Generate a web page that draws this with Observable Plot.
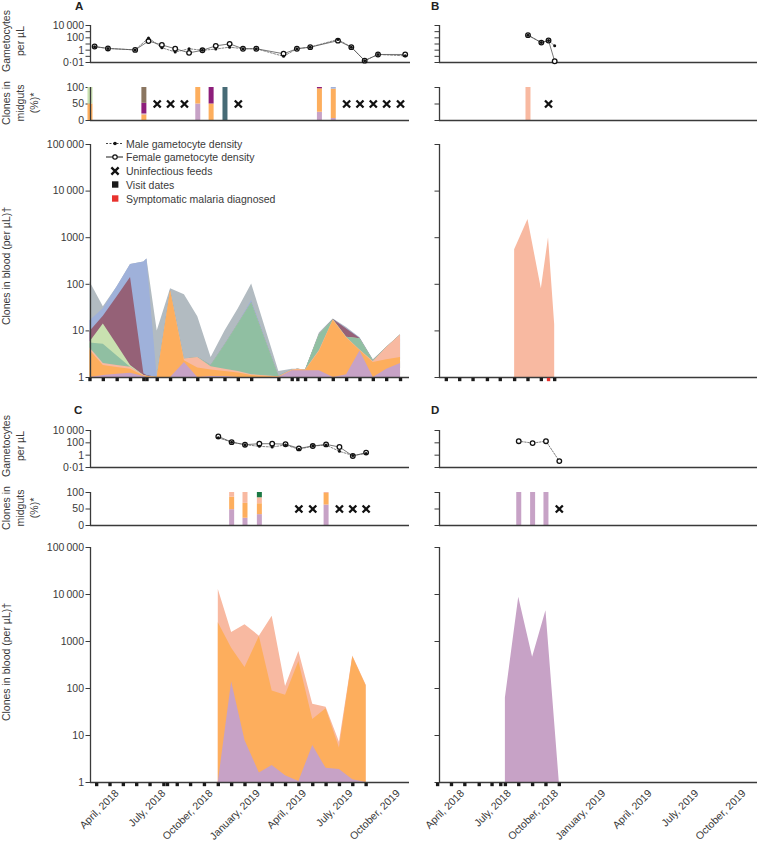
<!DOCTYPE html>
<html><head><meta charset="utf-8">
<script src="https://cdn.jsdelivr.net/npm/d3@7"></script>
<script src="https://cdn.jsdelivr.net/npm/@observablehq/plot@0.6"></script>
<style>
body{margin:0;background:#fff;}
#root{position:relative;width:761px;height:842px;overflow:hidden;font-family:"Liberation Sans",Arial,sans-serif;}
.chart{position:absolute;}
.chart svg{overflow:visible;}
</style></head><body><div id="root"></div>
<script>
// ---------- tick values & labels ----------
const monthTicks = ["2018-04-01","2018-07-01","2018-10-01","2019-01-01","2019-04-01","2019-07-01","2019-10-01"];
const monthLabels = ["April, 2018","July, 2018","October, 2018","January, 2019","April, 2019","July, 2019","October, 2019"];
const bloodTicks = [1,10,100,1000,10000,100000];
const bloodTickLabels = ["1","10","100","1000","10\u2009000","100\u2009000"];
const gamTicksAll = [0.01,0.1,1,10,100,1000,10000];
const gamTickLabelsAll = ["0·01","","1","","100","","10\u2009000"];
const gamTicksEven = [0.01,1,100,10000];
const gamTickLabelsEven = ["0·01","1","100","10\u2009000"];
const gutTicks = [0,50,100];
const gutTickLabels = ["0","50","100"];

// ---------- Panel A ----------
const aVisits = ["2018-02-19","2018-03-17","2018-04-13","2018-05-09","2018-06-04","2018-06-10","2018-06-30","2018-07-26","2018-08-22","2018-09-17","2018-10-13","2018-11-09","2018-12-05","2018-12-31","2019-02-22","2019-03-20","2019-03-31","2019-04-15","2019-05-12","2019-06-08","2019-07-04","2019-07-30","2019-08-25","2019-09-20","2019-10-17"];
// cumulative (stacked) clone densities per µL at each visit, bottom clone first
const aPurple = [1.0,1.1,1.17,1.24,1.05,1.0,1,1.0,2.1,1.0,1.05,1.05,1.0,1.0,1.0,1.4,1.4,1.4,1.4,1.0,1.15,3.7,1.0,1.5,2.0];
const aOrange = [3.8,1.8,1.64,1.5,1.08,1.05,1,72,2.3,1.6,1.45,1.35,1.25,1.1,1.02,1.42,1.45,1.42,3.6,17,7.0,3.8,2.1,2.4,2.7];
const aPink   = [4.3,2.0,1.8,1.65,1.1,1.07,1,74,2.5,2.7,1.7,1.5,1.35,1.15,1.04,1.45,1.5,1.45,3.8,17.2,7.2,3.9,2.2,4.4,8.2];
const aTeal   = [5.5,5.2,2.9,1.65,1.1,1.07,1,74,2.5,2.7,1.8,5.0,14,40,1.06,1.45,1.5,1.45,8.3,17.4,7.3,6.8,2.3,4.4,8.2];
const aLGreen = [5.8,14,5.0,1.8,1.1,1.07,1,74,2.5,2.7,1.8,5.0,14,40,1.06,1.45,1.5,1.45,8.3,17.4,7.3,6.8,2.3,4.4,8.2];
const aMaroon = [9.7,20.5,54,140,1.2,1.1,1,74,2.5,2.7,1.8,5.0,14,40,1.06,1.45,1.5,1.45,8.3,17.6,11,6.9,2.3,4.4,8.2];
const aBlue   = [16.5,30,89,265,300,350,1,77,2.5,2.7,1.85,5.2,14.5,45,1.1,1.45,1.5,1.45,8.5,17.8,11.3,7.0,2.35,4.4,8.2];
const aGrey   = [112,33,89,265,300,350,10,80,60,20,2.7,10,30,102,1.35,1.5,1.5,1.45,9,18,11.8,7.1,2.4,4.4,8.2];
const aGamDates = ["2018-02-19","2018-03-17","2018-05-09","2018-06-04","2018-06-30","2018-07-26","2018-08-22","2018-09-17","2018-10-13","2018-11-09","2018-12-05","2018-12-31","2019-02-22","2019-03-20","2019-04-15","2019-06-08","2019-07-04","2019-07-30","2019-08-25","2019-10-17"];
const aFemale = [3.9,1.9,1.1,30,7,1.7,0.37,0.95,5,10.5,1.7,1.7,0.26,1.7,3.1,35,3.1,0.02,0.2,0.2];
const aMale   = [3.6,1.9,1.1,95,2.5,0.5,1.7,0.95,1.5,3.1,1.7,1.7,0.1,1.7,3.1,55,3.1,0.02,0.2,0.12];
const aGutDates  = ["2018-02-19","2018-02-19","2018-06-04","2018-06-04","2018-06-04","2018-06-04","2018-09-17","2018-09-17","2018-10-13","2018-10-13","2018-11-09","2019-05-12","2019-05-12","2019-05-12","2019-06-08","2019-06-08","2019-06-08"];
const aGutClones = ["orange","lgreen","orange","purple","magenta","brown","purple","orange","orange","magenta","darkteal","purple","orange","magenta","purple","orange","blue"];
const aGutPct    = [50,50,17,3,32,48,50,50,50,50,100,25,71,4,6,89,5];
const aFeeds = ["2018-06-30","2018-07-26","2018-08-22","2018-12-05","2019-07-04","2019-07-30","2019-08-25","2019-09-20","2019-10-17"];

// ---------- Panel B ----------
const bVisits = ["2018-03-12","2018-04-07","2018-05-03","2018-05-31","2018-06-25","2018-07-23","2018-08-18","2018-09-13","2018-09-27","2018-10-09"];
const bSymptomatic = ["2018-09-27"];
const bBloodDates = ["2018-07-23","2018-08-18","2018-09-13","2018-09-27","2018-10-09"];
const bPink = [550,2450,80,1000,13.5];
const bGamDates = ["2018-08-18","2018-09-13","2018-09-27","2018-10-09"];
const bFemale = [270,17,37,0.016];
const bMale   = [270,17,37,5];
const bGutDates = ["2018-08-18"];
const bGutClones = ["pink"];
const bGutPct = [100];
const bFeeds = ["2018-09-27"];

// ---------- Panel C ----------
const cVisits = ["2018-03-04","2018-03-30","2018-04-25","2018-05-21","2018-06-16","2018-07-13","2018-07-20","2018-08-08","2018-09-03","2018-09-30","2018-10-27","2018-11-22","2018-12-18","2019-01-15","2019-02-09","2019-03-07","2019-04-02","2019-04-29","2019-05-25","2019-06-20","2019-07-16","2019-08-11"];
const cBloodDates = ["2018-10-27","2018-11-22","2018-12-18","2019-01-15","2019-02-09","2019-03-07","2019-04-02","2019-04-29","2019-05-25","2019-06-20","2019-07-16","2019-08-11"];
const cPurple = [1,139,7.8,1.6,2.3,1.4,1.05,6.1,2.0,1.9,1.14,1.0];
const cOrange = [2500,720,280,1280,89,72,375,22,37,5.4,475,115];
const cPink   = [12800,1560,2280,1300,3450,110,610,46,40,7.2,490,118];
const cGamDates = cBloodDates;
const cFemale = [1100,130,50,72,72,60,12.6,30,56,21,0.74,2.6];
const cMale   = [660,130,50,27,21,45,9,30,44,4.2,0.9,1.8];
const cGutDates  = ["2018-11-22","2018-11-22","2018-11-22","2018-12-18","2018-12-18","2018-12-18","2019-01-15","2019-01-15","2019-01-15","2019-01-15","2019-05-25","2019-05-25","2019-05-25"];
const cGutClones = ["purple","orange","pink","purple","orange","pink","purple","orange","pink","dkgreen","purple","orange","pink"];
const cGutPct    = [48,38,14,22,45,33,33,33,18,16,62,35,3];
const cFeeds = ["2019-04-02","2019-04-29","2019-06-20","2019-07-16","2019-08-11"];

// ---------- Panel D ----------
const dVisits = ["2018-02-23","2018-03-22","2018-04-17","2018-05-15","2018-06-09","2018-06-26","2018-07-05","2018-07-31","2018-08-27","2018-09-22","2018-10-18"];
const dBloodDates = ["2018-07-05","2018-07-31","2018-08-27","2018-09-22","2018-10-18"];
const dPurple = [63,8700,460,4500,1];
const dGamDates = ["2018-07-31","2018-08-27","2018-09-22","2018-10-18"];
const dFemale = [185,90,185,0.11];
const dGutDates = ["2018-07-31","2018-08-27","2018-09-22"];
const dGutClones = ["purple","purple","purple"];
const dGutPct = [100,100,100];
const dFeeds = ["2018-10-18"];

// ---------- styling ----------
const COL = {purple:"#c7a2c6", orange:"#fdae5d", pink:"#f8b9a1", teal:"#90bfa2", lgreen:"#c9e1b0",
  maroon:"#956177", blue:"#9fb1da", grey:"#b2bbc1", brown:"#8b7661", magenta:"#8d1e7b",
  darkteal:"#476b76", dkgreen:"#1b7944", red:"#e8322e"};
const AX = "#3a3a3a";
const FONT = "'Liberation Sans', Arial, sans-serif";
const STYLE = {fontFamily: FONT, fontSize: "10.5px", color: "#3a3a3a", background: "transparent", overflow: "visible"};
const iso = d3.isoParse;
const P = s => d3.utcParse("%Y-%m-%d")(s);
const leftDomain = [iso("2018-02-20T00:00:00Z"), iso("2019-11-03T12:00:00Z")];
const aGamDomain = [iso("2018-02-11T00:00:00Z"), iso("2019-10-27T07:00:00Z")];
const rightDomain = [iso("2018-02-26T16:00:00Z"), iso("2019-11-08T00:00:00Z")];
const LEFT = {left: 0, width: 420, marginLeft: 90, marginRight: 11};
const RIGHT = {left: 349, width: 412, marginLeft: 90, marginRight: 4};
const root = document.getElementById("root");

function place(svg, left, top) {
  const w = document.createElement("div");
  w.className = "chart"; w.style.left = left + "px"; w.style.top = top + "px";
  w.appendChild(svg); root.appendChild(w);
}

function gamChart({dates, female, male, domain, col, top, ticks, labels, femaleDashed}) {
  const F = dates.map((d, i) => ({date: P(d), v: female[i]}));
  const M = male ? dates.map((d, i) => ({date: P(d), v: male[i]})) : [];
  const svg = Plot.plot({
    width: col.width, height: 55, marginLeft: col.marginLeft, marginRight: col.marginRight + (domain === aGamDomain ? -1 : 0),
    marginTop: 10, marginBottom: 8, style: STYLE,
    x: {type: "utc", domain, axis: null},
    y: {type: "log", domain: [0.01, 10000]},
    marks: [
      Plot.axisY({ticks, tickSize: 4.5, tickPadding: 2, label: null,
        tickFormat: labels ? (d => labels[ticks.indexOf(d)]) : (() => "")}),
      Plot.ruleX([domain[0]], {y1: 0.01, y2: 10000, stroke: AX, strokeWidth: 1.3}),
      Plot.ruleY([0.01], {stroke: AX, strokeWidth: 1.3}),
      Plot.line(M, {x: "date", y: "v", stroke: "#666", strokeWidth: 0.8, strokeDasharray: "2,1.5"}),
      Plot.line(F, {x: "date", y: "v", stroke: "#555", strokeWidth: 0.8, strokeDasharray: femaleDashed ? "1.5,1.5" : null}),
      Plot.dot(F, {x: "date", y: "v", r: 2.3, fill: "white", stroke: "#111", strokeWidth: 1.3}),
      Plot.dot(M, {x: "date", y: "v", r: 1.5, fill: "#111", stroke: "none"})
    ]
  });
  place(svg, col.left, top);
}

function gutChart({dates, clones, pcts, feeds, domain, col, top, labels}) {
  const acc = new Map();
  const rows = dates.map((d, i) => {
    const base = acc.get(d) || 0;
    acc.set(d, base + pcts[i]);
    return {date: P(d), y1: base, y2: base + pcts[i], c: COL[clones[i]]};
  });
  const fr = feeds.map(d => ({date: P(d)}));
  const svg = Plot.plot({
    width: col.width, height: 45, marginLeft: col.marginLeft, marginRight: col.marginRight,
    marginTop: 7, marginBottom: 5, style: STYLE,
    x: {type: "utc", domain, axis: null},
    y: {domain: [0, 100]},
    color: {type: "identity"},
    marks: [
      Plot.axisY({ticks: gutTicks, tickSize: 4.5, tickPadding: 2, label: null,
        tickFormat: labels ? (d => gutTickLabels[gutTicks.indexOf(d)]) : (() => "")}),
      Plot.ruleX(rows, {x: "date", y1: "y1", y2: "y2", stroke: "c", strokeWidth: 5}),
      Plot.ruleX([domain[0]], {y1: 0, y2: 100, stroke: AX, strokeWidth: 1.3}),
      Plot.ruleY([0], {stroke: AX, strokeWidth: 1.3}),
      Plot.dot(fr, {x: "date", frameAnchor: "middle", symbol: "times", r: 3.3, stroke: "#111", strokeWidth: 2.3})
    ]
  });
  place(svg, col.left, top);
}

function bloodChart({dates, layers, visits, sympt = [], domain, col, top, height, marginBottom, labels, xAxis}) {
  const marks = [
    Plot.axisY({ticks: bloodTicks, tickSize: 4.5, tickPadding: 2, label: null,
      tickFormat: labels ? (d => bloodTickLabels[bloodTicks.indexOf(d)]) : (() => "")})
  ];
  for (const [key, cum] of layers.slice().reverse()) {
    const rows = dates.map((d, i) => ({date: P(d), lo: bloodTicks[0], hi: cum[i]}));
    marks.push(Plot.areaY(rows, {x: "date", y1: "lo", y2: "hi", fill: COL[key]}));
  }
  marks.push(Plot.ruleX([domain[0]], {y1: 1, y2: 100000, stroke: AX, strokeWidth: 1.3}));
  marks.push(Plot.ruleY([1], {stroke: AX, strokeWidth: 1.3}));
  const vr = visits.map(d => ({date: P(d), c: sympt.includes(d) ? COL.red : "#1a1a1a"}));
  marks.push(Plot.dot(vr, {x: "date", frameAnchor: "bottom", dy: 2, symbol: "square", r: 1.9, fill: "c", stroke: "none"}));
  if (xAxis) {
    const mt = monthTicks.map(P);
    marks.push(Plot.axisX({ticks: mt, tickSize: 0, tickPadding: 9, tickRotate: -45, label: null, dx: 6,
      tickFormat: d => monthLabels[mt.findIndex(t => +t === +d)]}));
  }
  const svg = Plot.plot({
    width: col.width, height, marginLeft: col.marginLeft, marginRight: col.marginRight,
    marginTop: 10, marginBottom, style: STYLE,
    x: xAxis ? {type: "utc", domain} : {type: "utc", domain, axis: null},
    y: {type: "log", domain: [1, 100000]},
    color: {type: "identity"},
    marks
  });
  place(svg, col.left, top);
}

// ---------- Panel A ----------
gamChart({dates: aGamDates, female: aFemale, male: aMale, domain: aGamDomain, col: LEFT, top: 15, ticks: gamTicksAll, labels: gamTickLabelsAll});
gutChart({dates: aGutDates, clones: aGutClones, pcts: aGutPct, feeds: aFeeds, domain: leftDomain, col: LEFT, top: 80, labels: true});
bloodChart({dates: aVisits, layers: [["purple",aPurple],["orange",aOrange],["pink",aPink],["teal",aTeal],["lgreen",aLGreen],["maroon",aMaroon],["blue",aBlue],["grey",aGrey]],
  visits: aVisits, domain: leftDomain, col: LEFT, top: 134, height: 250, marginBottom: 7, labels: true, xAxis: false});
// ---------- Panel B ----------
gamChart({dates: bGamDates, female: bFemale, male: bMale, domain: rightDomain, col: RIGHT, top: 15, ticks: gamTicksAll, labels: null});
gutChart({dates: bGutDates, clones: bGutClones, pcts: bGutPct, feeds: bFeeds, domain: rightDomain, col: RIGHT, top: 80, labels: false});
bloodChart({dates: bBloodDates, layers: [["pink",bPink]], visits: bVisits, sympt: bSymptomatic,
  domain: rightDomain, col: RIGHT, top: 134, height: 250, marginBottom: 7, labels: false, xAxis: false});
// ---------- Panel C ----------
gamChart({dates: cGamDates, female: cFemale, male: cMale, domain: leftDomain, col: LEFT, top: 420, ticks: gamTicksEven, labels: gamTickLabelsEven});
gutChart({dates: cGutDates, clones: cGutClones, pcts: cGutPct, feeds: cFeeds, domain: leftDomain, col: LEFT, top: 485, labels: true});
bloodChart({dates: cBloodDates, layers: [["purple",cPurple],["orange",cOrange],["pink",cPink]], visits: cVisits,
  domain: leftDomain, col: LEFT, top: 537, height: 305, marginBottom: 60, labels: true, xAxis: true});
// ---------- Panel D ----------
gamChart({dates: dGamDates, female: dFemale, male: null, domain: rightDomain, col: RIGHT, top: 420, ticks: gamTicksEven, labels: null, femaleDashed: true});
gutChart({dates: dGutDates, clones: dGutClones, pcts: dGutPct, feeds: dFeeds, domain: rightDomain, col: RIGHT, top: 485, labels: false});
bloodChart({dates: dBloodDates, layers: [["purple",dPurple]], visits: dVisits,
  domain: rightDomain, col: RIGHT, top: 537, height: 305, marginBottom: 60, labels: false, xAxis: true});

// ---------- overlay: panel letters, axis titles, legend ----------
const ov = d3.select(root).append("svg").attr("width", 761).attr("height", 842)
  .style("position", "absolute").style("left", 0).style("top", 0).style("pointer-events", "none")
  .style("font-family", FONT).style("font-size", "10.5px").style("fill", "#3a3a3a");
const letters = [["A", 75, 10], ["B", 431, 10], ["C", 74, 414], ["D", 431, 414]];
for (const [t, x, y] of letters) ov.append("text").attr("x", x).attr("y", y).attr("font-weight", "bold").attr("font-size", "11.5px").attr("fill", "#222").text(t);
function vtitle(lines, cy) {
  lines.forEach((t, i) => {
    ov.append("text").attr("transform", `translate(${6 + i * 14},${cy}) rotate(-90)`)
      .attr("text-anchor", "middle").attr("dominant-baseline", "central").text(t);
  });
}
for (const off of [0, 405]) {
  vtitle(["Gametocytes", "per µL"], 41 + off);
  vtitle(["Clones in", "midguts", "(%)*"], 103 + off);
}
vtitle(["Clones in blood (per µL)†"], 266);
vtitle(["Clones in blood (per µL)†"], 662);

const lg = ov.append("g");
const rowsY = [143.5, 157, 171, 184.5, 198.5];
const legendText = ["Male gametocyte density", "Female gametocyte density", "Uninfectious feeds", "Visit dates", "Symptomatic malaria diagnosed"];
legendText.forEach((t, i) => lg.append("text").attr("x", 126).attr("y", rowsY[i]).attr("dominant-baseline", "central").text(t));
lg.append("line").attr("x1", 106).attr("x2", 123).attr("y1", rowsY[0]).attr("y2", rowsY[0]).attr("stroke", "#444").attr("stroke-width", 1).attr("stroke-dasharray", "2,1.5");
lg.append("circle").attr("cx", 115).attr("cy", rowsY[0]).attr("r", 1.8).attr("fill", "#111");
lg.append("line").attr("x1", 106).attr("x2", 123).attr("y1", rowsY[1]).attr("y2", rowsY[1]).attr("stroke", "#444").attr("stroke-width", 1.2);
lg.append("circle").attr("cx", 115).attr("cy", rowsY[1]).attr("r", 2.2).attr("fill", "#fff").attr("stroke", "#111").attr("stroke-width", 1.2);
lg.append("path").attr("d", d3.symbol(d3.symbolTimes, 36)()).attr("transform", `translate(115,${rowsY[2]})`).attr("fill", "none").attr("stroke", "#111").attr("stroke-width", 2.3);
lg.append("rect").attr("x", 112).attr("y", rowsY[3] - 3.2).attr("width", 6.4).attr("height", 6.4).attr("fill", "#1a1a1a");
lg.append("rect").attr("x", 112).attr("y", rowsY[4] - 3.2).attr("width", 6.4).attr("height", 6.4).attr("fill", COL.red);
</script></body></html>
